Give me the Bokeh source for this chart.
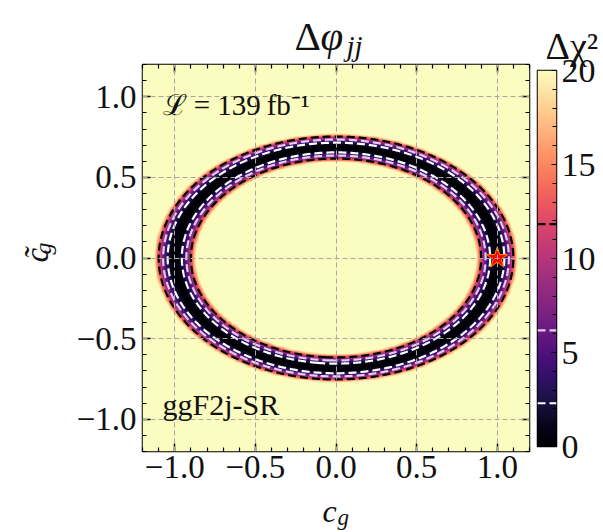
import numpy as np
from bokeh.plotting import figure
from bokeh.models import Range1d, LinearColorMapper, FixedTicker, LinearAxis, Label, ColumnDataSource
from bokeh.core.properties import value
from bokeh.palettes import Magma256
from bokeh.layouts import row, column
from bokeh.embed import file_html
from bokeh.resources import INLINE

# ---------------- data ----------------
ELLIPSE_SEMI_AXES = [1.0, 0.685]          # ring centre-line: c_g axis, c~_g axis
RING_WIDTH = [0.029]                      # spread of the ring in normalised radius
CHI2_LEVELS = [2.30, 6.18, 11.83]         # 1, 2, 3 sigma (2 dof)
CHI2_RANGE = [0, 20]
BEST_FIT_CG = [1.0]
BEST_FIT_CGT = [0.0]
AXIS_RANGE = [-1.2, 1.2]
AXIS_TICKS = [-1.0, -0.5, 0.0, 0.5, 1.0]
AXIS_TICK_LABELS = ["\u22121.0", "\u22120.5", "0.0", "0.5", "1.0"]
AXIS_MINOR_TICKS = [round(-1.2 + 0.1 * i, 2) for i in range(25)]
CBAR_TICKS = [0, 5, 10, 15, 20]
CBAR_TICK_LABELS = ["0", "5", "10", "15", "20"]
CBAR_MINOR_TICKS = list(range(21))
LUMI_TEXT = "\u2112 = 139\u2009fb\u207b\u00b9"
REGION_TEXT = "ggF2j-SR"
TITLE_MAIN = ["\u0394", "\u03c6", "jj"]
XLABEL = ["c", "g"]
YLABEL = ["c\u0303", "g"]
CBAR_TITLE = "\u0394\u03c7\u00b2"

# ---------------- styles ----------------
FONT = "Liberation Serif"
LEVEL_COLORS = ["white", "#e4cbef", "black"]
PX = 161.25  # pixels per data unit in the main frame

def X(px):
    return (px - 142) / PX + AXIS_RANGE[0]

def Y(py):
    return (451 - py) / PX + AXIS_RANGE[0]

# ---------------- field ----------------
n = 481
cg = np.linspace(AXIS_RANGE[0], AXIS_RANGE[1], n)
cgt = np.linspace(AXIS_RANGE[0], AXIS_RANGE[1], n)
CG, CGT = np.meshgrid(cg, cgt)
R = np.sqrt((CG / ELLIPSE_SEMI_AXES[0]) ** 2 + (CGT / ELLIPSE_SEMI_AXES[1]) ** 2)
DCHI2 = ((R - 1.0) / RING_WIDTH[0]) ** 2

mapper = LinearColorMapper(palette=Magma256, low=CHI2_RANGE[0], high=CHI2_RANGE[1])

p = figure(width=473, height=430, x_range=Range1d(*AXIS_RANGE), y_range=Range1d(*AXIS_RANGE),
           toolbar_location=None, output_backend="svg",
           min_border_left=82, min_border_right=4, min_border_top=2, min_border_bottom=41)
p.border_fill_color = "white"
p.outline_line_color = "black"
p.outline_line_width = 1.5

p.image(image=[DCHI2], x=AXIS_RANGE[0], y=AXIS_RANGE[0],
        dw=AXIS_RANGE[1] - AXIS_RANGE[0], dh=AXIS_RANGE[1] - AXIS_RANGE[0], color_mapper=mapper)

p.contour(cg, cgt, DCHI2, levels=CHI2_LEVELS, line_color=LEVEL_COLORS,
          line_dash="8 4", line_width=2.2)

p.scatter(x=BEST_FIT_CG, y=BEST_FIT_CGT, marker="star", size=22,
          fill_color="red", line_color="#ff8c00", line_width=1)

for g in (p.xgrid, p.ygrid):
    g.ticker = FixedTicker(ticks=AXIS_TICKS)
    g.grid_line_color = "#a8a8a0"
    g.grid_line_dash = "5 3"
    g.grid_line_width = 1
    g.level = "annotation"

overrides = {t: lab for t, lab in zip(AXIS_TICKS, AXIS_TICK_LABELS)}

def style_axis(ax, labels=True):
    ax.ticker = FixedTicker(ticks=AXIS_TICKS, minor_ticks=AXIS_MINOR_TICKS)
    ax.axis_line_color = None
    ax.major_tick_in = 8
    ax.major_tick_out = 0
    ax.minor_tick_in = 4
    ax.minor_tick_out = 0
    ax.major_tick_line_width = 1.5
    ax.minor_tick_line_width = 1.2
    ax.major_tick_line_color = "black"
    ax.minor_tick_line_color = "black"
    if labels:
        ax.major_label_overrides = overrides
        ax.major_label_text_font = FONT
        ax.major_label_text_font_size = "33px"
        ax.major_label_text_color = "#111111"
    else:
        ax.major_label_overrides = {t: "" for t in AXIS_TICKS}
        ax.major_label_text_font_size = "1px"
        ax.major_label_standoff = 0

style_axis(p.xaxis[0])
style_axis(p.yaxis[0])
p.xaxis[0].major_label_standoff = 4
p.yaxis[0].major_label_standoff = 6
top_ax = LinearAxis()
right_ax = LinearAxis()
style_axis(top_ax, labels=False)
style_axis(right_ax, labels=False)
p.add_layout(top_ax, "above")
p.add_layout(right_ax, "right")

def lab(fig, x, y, text, size):
    fig.add_layout(Label(x=x, y=y, text=text, text_font=FONT, text_font_size=size,
                         text_align="left", text_baseline="alphabetic", text_color="#111111"))

# anchors are set ~0.36 em above the wanted baseline (bokeh draws them lower)
lab(p, X(162), Y(104), LUMI_TEXT, "29px")
lab(p, X(162), Y(404), REGION_TEXT, "30px")

# ---------------- text panels around the plot ----------------
def text_fig(w, h):
    f = figure(width=w, height=h, x_range=Range1d(0, w), y_range=Range1d(0, h),
               x_axis_type=None, y_axis_type=None, toolbar_location=None,
               output_backend="svg", min_border=0)
    f.outline_line_color = None
    f.border_fill_color = "white"
    f.background_fill_color = "white"
    return f

def put(f, x, y, text, size, italic=False, angle=0.0):
    f.text(x=[x], y=[y], text=[text], text_font=value(FONT), text_font_size=size,
           text_font_style="italic" if italic else "normal", text_color="#111111",
           text_align="left", text_baseline="alphabetic", angle=angle)

# title panel: page x 0..533, y 0..62  (data y = 62 - page y)
tf = text_fig(533, 62)
put(tf, 294, 62 - 35, TITLE_MAIN[0], "41px")
put(tf, 320, 62 - 35, TITLE_MAIN[1], "41px", italic=True)
put(tf, 346, 62 - 45, TITLE_MAIN[2], "29px", italic=True)

# y-label panel: page x 0..60, y 62..492  (data y = 492 - page y)
yf = text_fig(60, 430)
put(yf, 36, 492 - 282, YLABEL[0], "33px", italic=True, angle=np.pi / 2)
put(yf, 42, 492 - 273, YLABEL[1], "24px", italic=True, angle=np.pi / 2)

# x-label panel: page x 0..533, y 492..532  (data y = 532 - page y)
xf = text_fig(533, 40)
put(xf, 322, 532 - 510, XLABEL[0], "32px", italic=True)
put(xf, 337, 532 - 517, XLABEL[1], "23px", italic=True)

# ---------------- colour bar ----------------
cb = figure(width=70, height=532, x_range=Range1d(0, 1), y_range=Range1d(*CHI2_RANGE),
            toolbar_location=None, output_backend="svg", x_axis_type=None,
            y_axis_location="right",
            min_border_left=4, min_border_right=47, min_border_top=70, min_border_bottom=86)
cb.border_fill_color = "white"
cb.outline_line_color = "black"
cb.outline_line_width = 1.5
cb.grid.visible = False
cb.title.text = CBAR_TITLE
cb.title.text_font = FONT
cb.title.text_font_size = "38px"
cb.title.text_font_style = "normal"
cb.title.text_color = "#111111"
cb.title.align = "left"
cb.title.offset = 8
cb.title.standoff = 8
grad = np.linspace(CHI2_RANGE[0], CHI2_RANGE[1], 256).reshape(-1, 1)
cb.image(image=[grad], x=0, y=CHI2_RANGE[0], dw=1, dh=CHI2_RANGE[1] - CHI2_RANGE[0], color_mapper=mapper)
seg = ColumnDataSource(dict(x0=[0] * len(CHI2_LEVELS), x1=[1] * len(CHI2_LEVELS),
                            y=CHI2_LEVELS, c=LEVEL_COLORS))
cb.segment(x0="x0", y0="y", x1="x1", y1="y", line_color="c", line_width=2.2,
           line_dash="8 4", source=seg)
cax = cb.yaxis[0]
cax.ticker = FixedTicker(ticks=CBAR_TICKS, minor_ticks=CBAR_MINOR_TICKS)
cax.major_label_overrides = {t: l for t, l in zip(CBAR_TICKS, CBAR_TICK_LABELS)}
cax.axis_line_color = None
cax.major_tick_in = 5
cax.major_tick_out = 0
cax.minor_tick_in = 4
cax.minor_tick_out = 0
cax.major_tick_line_width = 1.2
cax.minor_tick_line_width = 1.2
cax.major_label_text_font = FONT
cax.major_label_text_font_size = "34px"
cax.major_label_text_color = "#111111"
cax.major_label_standoff = 5

layout = row(column(tf, row(yf, p), xf), cb)
open("out.html", "w").write(file_html(layout, INLINE))
